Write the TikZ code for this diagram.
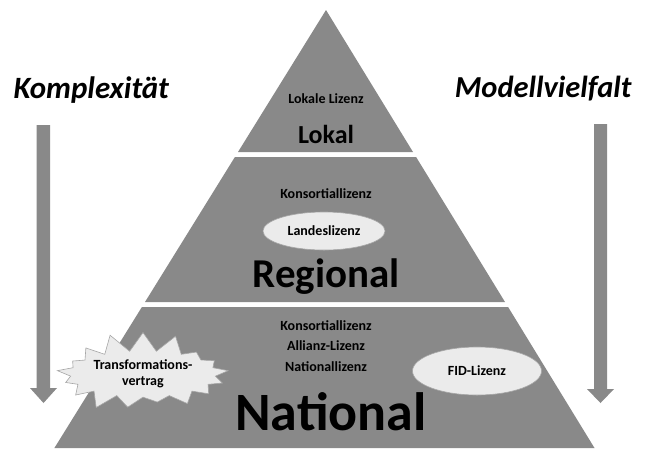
\documentclass[tikz,border=0pt]{standalone}
\usepackage{fontspec}
\setmainfont{Carlito}
\usepackage{xcolor}
\usetikzlibrary{shapes.geometric}
\usetikzlibrary{shapes.symbols}
\definecolor{pyrgray}{HTML}{898989}
\definecolor{lightfill}{HTML}{EBEBEB}
\definecolor{edgegray}{HTML}{A6A6A6}

\begin{document}
\begin{tikzpicture}[x=1pt, y=-1pt,
        small/.style = {font=\bfseries\fontsize{14}{16.5}\selectfont},
        oval/.style = {ellipse, fill=lightfill, draw=edgegray, line width=0.6pt, inner sep=0pt}]
        \useasboundingbox (0, 0) rectangle (647, 448);

        \fill[pyrgray] (326, 10) -- (413, 152) -- (238, 152) -- cycle;
        \fill[pyrgray] (234.9, 157) -- (416.1, 157) -- (505, 302) -- (145, 302) -- cycle;
        \fill[pyrgray] (141.9, 307) -- (508.1, 307) -- (594.5, 448) -- (54.4, 448) -- cycle;

        \fill[pyrgray] (36.5, 125) -- (50, 125) -- (50, 388) -- (57, 388)
            -- (43.5, 403) -- (30, 388) -- (36.5, 388) -- cycle;
        \fill[pyrgray] (594, 124) -- (607, 124) -- (607, 389) -- (614, 389)
            -- (600.5, 403) -- (587, 389) -- (594, 389) -- cycle;

        \node[anchor=base west, font=\bfseries\itshape\fontsize{31}{31}\selectfont]
            (komplex) at (10, 98) {Komplexität};
        \node[anchor=base east, font=\bfseries\itshape\fontsize{30.5}{31}\selectfont]
            (vielfalt) at (635, 97) {Modellvielfalt};

        \node[small] (lokalLiz) at (326, 99) {Lokale Lizenz};
        \node[anchor=base, font=\bfseries\fontsize{26}{26}\selectfont]
            (lokal) at (326, 143) {Lokal};

        \node[small] (konsReg) at (326, 194) {Konsortiallizenz};
        \node[oval, small, minimum width=122pt, minimum height=38pt]
            (landes) at (324, 231) {Landeslizenz};
        \node[anchor=base, font=\bfseries\fontsize{41}{41}\selectfont]
            (regional) at (326, 287) {Regional};

        \node[small] (konsNat) at (326, 326) {Konsortiallizenz};
        \node[small] (allianz) at (326, 346) {Allianz-Lizenz};
        \node[small] (natLiz) at (326, 367) {Nationallizenz};
        \node[anchor=base, font=\bfseries\fontsize{54}{54}\selectfont]
            (national) at (331, 430) {National};

        \node[starburst, starburst points=17, starburst point height=20pt,
            random starburst=30, fill=lightfill, draw=edgegray, line width=0.6pt,
            minimum width=150pt, minimum height=64pt, inner sep=2pt, small, align=center]
            (transform) at (143, 374) {Transformations-\\vertrag};
        \node[oval, small, minimum width=129pt, minimum height=48pt]
            (fid) at (477, 371) {FID-Lizenz};
\end{tikzpicture}
\end{document}
